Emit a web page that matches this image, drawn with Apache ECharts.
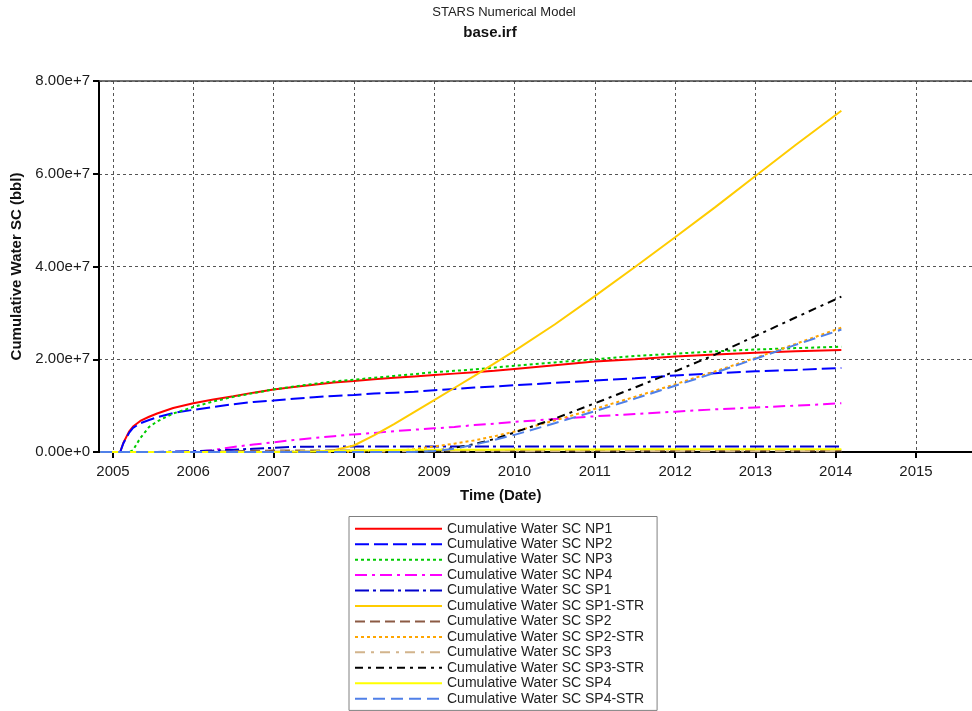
<!DOCTYPE html>
<html>
<head>
<meta charset="utf-8">
<title>STARS Numerical Model - base.irf</title>
<script src="https://cdn.jsdelivr.net/npm/echarts@6/dist/echarts.min.js"></script>
<style>
  html, body { margin: 0; padding: 0; background: #fff; }
  #chart { width: 972px; height: 711px; }
</style>
</head>
<body>
<div id="chart"></div>
<script>
// Simulation time in decimal years
const years = [2004.84, 2005.09, 2005.13, 2005.2, 2005.25, 2005.34, 2005.45, 2005.55, 2005.75,
  2006.0, 2006.25, 2006.5, 2006.75, 2007.0, 2007.25, 2007.5, 2007.75,
  2008.0, 2008.25, 2008.5, 2008.75, 2009.0, 2009.25, 2009.5, 2009.75,
  2010.0, 2010.5, 2011.0, 2011.5, 2012.0, 2012.5, 2013.0, 2013.5, 2014.07];

// Cumulative water, surface conditions (bbl), one array per well
const np1 = [0, 0, 2.0e6, 4.4e6, 5.5e6, 6.7e6, 7.6e6, 8.3e6, 9.5e6,
  10.5e6, 11.3e6, 12.0e6, 12.8e6, 13.5e6, 14.0e6, 14.5e6, 15.0e6,
  15.3e6, 15.7e6, 16.0e6, 16.3e6, 16.6e6, 16.9e6, 17.2e6, 17.5e6,
  17.9e6, 18.7e6, 19.5e6, 20.0e6, 20.6e6, 21.0e6, 21.4e6, 21.7e6, 22.0e6];
const np2 = [0, 0, 1.9e6, 4.1e6, 5.2e6, 6.2e6, 6.9e6, 7.5e6, 8.4e6,
  9.1e6, 9.7e6, 10.3e6, 10.8e6, 11.1e6, 11.5e6, 11.8e6, 12.1e6,
  12.3e6, 12.6e6, 12.8e6, 13.0e6, 13.3e6, 13.6e6, 13.9e6, 14.1e6,
  14.4e6, 14.9e6, 15.4e6, 15.9e6, 16.5e6, 17.0e6, 17.4e6, 17.7e6, 18.1e6];
const np3 = [0, 0, 0, 0, 0.4e6, 3.0e6, 5.4e6, 6.6e6, 8.3e6,
  9.7e6, 10.9e6, 11.9e6, 12.7e6, 13.5e6, 14.1e6, 14.7e6, 15.2e6,
  15.6e6, 16.0e6, 16.4e6, 16.8e6, 17.2e6, 17.5e6, 17.8e6, 18.2e6,
  18.6e6, 19.3e6, 20.0e6, 20.7e6, 21.2e6, 21.7e6, 22.1e6, 22.4e6, 22.7e6];
const np4 = [0, 0, 0, 0, 0, 0, 0, 0, 0,
  0, 0.4e6, 1.1e6, 1.6e6, 2.1e6, 2.6e6, 3.0e6, 3.4e6,
  3.8e6, 4.1e6, 4.5e6, 4.8e6, 5.1e6, 5.4e6, 5.8e6, 6.1e6,
  6.5e6, 7.1e6, 7.7e6, 8.2e6, 8.7e6, 9.2e6, 9.6e6, 10.0e6, 10.5e6];
const sp1 = [0, 0, 0, 0, 0, 0, 0, 0, 0.1e6,
  0.2e6, 0.3e6, 0.5e6, 0.7e6, 0.9e6, 1.1e6, 1.15e6, 1.2e6,
  1.2e6, 1.2e6, 1.2e6, 1.2e6, 1.2e6, 1.2e6, 1.2e6, 1.2e6,
  1.2e6, 1.2e6, 1.2e6, 1.2e6, 1.2e6, 1.2e6, 1.2e6, 1.2e6, 1.2e6];
const sp1Str = [0, 0, 0, 0, 0, 0, 0, 0, 0,
  0, 0, 0, 0, 0, 0, 0, 0.4e6,
  1.4e6, 3.6e6, 6.0e6, 8.6e6, 11.2e6, 13.8e6, 16.4e6, 19.1e6,
  21.8e6, 27.5e6, 33.6e6, 39.9e6, 46.3e6, 52.8e6, 59.5e6, 66.2e6, 73.6e6];
const sp2 = [0, 0, 0, 0, 0, 0, 0, 0, 0,
  0, 0.05e6, 0.15e6, 0.25e6, 0.3e6, 0.35e6, 0.35e6, 0.35e6,
  0.35e6, 0.35e6, 0.35e6, 0.35e6, 0.35e6, 0.35e6, 0.35e6, 0.35e6,
  0.35e6, 0.35e6, 0.35e6, 0.35e6, 0.35e6, 0.35e6, 0.35e6, 0.35e6, 0.35e6];
const sp2Str = [0, 0, 0, 0, 0, 0, 0, 0, 0,
  0, 0, 0, 0, 0, 0, 0, 0,
  0, 0.05e6, 0.2e6, 0.6e6, 1.2e6, 1.8e6, 2.5e6, 3.4e6,
  4.4e6, 6.8e6, 9.3e6, 11.9e6, 14.6e6, 17.4e6, 20.3e6, 23.3e6, 26.8e6];
const sp3 = [0, 0, 0, 0, 0, 0, 0, 0, 0,
  0, 0, 0, 0, 0.1e6, 0.15e6, 0.15e6, 0.15e6,
  0.15e6, 0.15e6, 0.15e6, 0.15e6, 0.15e6, 0.15e6, 0.15e6, 0.15e6,
  0.15e6, 0.15e6, 0.15e6, 0.15e6, 0.15e6, 0.15e6, 0.15e6, 0.15e6, 0.15e6];
const sp3Str = [0, 0, 0, 0, 0, 0, 0, 0, 0,
  0, 0, 0, 0, 0, 0, 0, 0,
  0, 0, 0, 0, 0.2e6, 0.9e6, 1.7e6, 2.8e6,
  4.2e6, 7.2e6, 10.5e6, 13.9e6, 17.4e6, 21.0e6, 25.0e6, 29.0e6, 33.5e6];
const sp4 = [0, 0, 0, 0, 0, 0, 0, 0, 0,
  0, 0, 0, 0, 0, 0.05e6, 0.1e6, 0.2e6,
  0.3e6, 0.4e6, 0.45e6, 0.5e6, 0.5e6, 0.5e6, 0.5e6, 0.5e6,
  0.52e6, 0.54e6, 0.56e6, 0.58e6, 0.6e6, 0.6e6, 0.6e6, 0.6e6, 0.6e6];
const sp4Str = [0, 0, 0, 0, 0, 0, 0, 0, 0,
  0, 0, 0, 0, 0, 0, 0, 0,
  0, 0, 0, 0, 0.2e6, 0.7e6, 1.6e6, 2.6e6,
  3.7e6, 6.2e6, 8.8e6, 11.5e6, 14.3e6, 17.1e6, 20.1e6, 23.1e6, 26.4e6];

// Axis ticks
const xTickYears = [2005, 2006, 2007, 2008, 2009, 2010, 2011, 2012, 2013, 2014, 2015];
const yTicks = [0, 2e7, 4e7, 6e7, 8e7];

const FONT = '"Liberation Sans", Arial, sans-serif';

const seriesDefs = [
  { name: 'Cumulative Water SC NP1',     data: np1,    color: '#FF0000', dash: 'solid' },
  { name: 'Cumulative Water SC NP2',     data: np2,    color: '#0000FF', dash: [14, 5] },
  { name: 'Cumulative Water SC NP3',     data: np3,    color: '#00CC00', dash: [3, 3] },
  { name: 'Cumulative Water SC NP4',     data: np4,    color: '#FF00FF', dash: [12, 5, 3, 5] },
  { name: 'Cumulative Water SC SP1',     data: sp1,    color: '#0000CC', dash: [14, 4, 3, 4] },
  { name: 'Cumulative Water SC SP1-STR', data: sp1Str, color: '#FFCC00', dash: 'solid' },
  { name: 'Cumulative Water SC SP2',     data: sp2,    color: '#8B5A44', dash: [10, 5] },
  { name: 'Cumulative Water SC SP2-STR', data: sp2Str, color: '#FFA500', dash: [3, 3] },
  { name: 'Cumulative Water SC SP3',     data: sp3,    color: '#D2B48C', dash: [10, 6, 3, 6] },
  { name: 'Cumulative Water SC SP3-STR', data: sp3Str, color: '#000000', dash: [8, 5, 3, 5] },
  { name: 'Cumulative Water SC SP4',     data: sp4,    color: '#FFFF00', dash: 'solid' },
  { name: 'Cumulative Water SC SP4-STR', data: sp4Str, color: '#5080E8', dash: [12, 6] }
];

const chart = echarts.init(document.getElementById('chart'), null, { renderer: 'canvas' });

const gridLine = { show: true, lineStyle: { type: [3, 3], color: '#555', width: 1 } };

chart.setOption({
  animation: false,
  backgroundColor: '#fff',
  title: [
    { text: 'STARS Numerical Model', left: 504, top: 6, padding: 0, textAlign: 'center',
      textStyle: { fontFamily: FONT, fontSize: 13, fontWeight: 'normal', color: '#222' } },
    { text: 'base.irf', left: 490, top: 25, padding: 0, textAlign: 'center',
      textStyle: { fontFamily: FONT, fontSize: 15, fontWeight: 'bold', color: '#111' } }
  ],
  graphic: [
    { type: 'text', left: 460, top: 488,
      style: { text: 'Time (Date)', fontFamily: FONT, fontSize: 15, fontWeight: 'bold', fill: '#111' } }
  ],
  legend: {
    orient: 'vertical', left: 349, top: 516.5,
    itemWidth: 87, itemHeight: 14, itemGap: 0,
    padding: [4.5, 13, 4, 5],
    borderColor: '#808080', borderWidth: 1,
    selectedMode: false,
    // line-only keys: the marker symbol is hidden
    itemStyle: { opacity: 0 },
    textStyle: { fontFamily: FONT, fontSize: 14, color: '#222', lineHeight: 15.45 },
    data: seriesDefs.map(s => s.name)
  },
  grid: { left: 99, top: 81, right: 0, bottom: 259, containLabel: false },
  xAxis: [
    {
      type: 'value', min: 2004.826, max: 2015.697,
      axisLine: { show: true, lineStyle: { color: '#000', width: 2 } },
      axisTick: { show: true, customValues: xTickYears, length: 6, lineStyle: { color: '#000', width: 2 } },
      axisLabel: { customValues: xTickYears, formatter: v => String(Math.round(v)),
        fontFamily: FONT, fontSize: 15, color: '#1a1a1a', margin: 12 },
      splitLine: gridLine
    },
    {
      type: 'value', position: 'top', min: 2004.826, max: 2015.697,
      axisLine: { show: true, lineStyle: { color: '#444', width: 1.5 } },
      axisTick: { show: false }, axisLabel: { show: false }, splitLine: { show: false }
    }
  ],
  yAxis: {
    type: 'value', min: yTicks[0], max: yTicks[yTicks.length - 1], interval: yTicks[1] - yTicks[0],
    name: 'Cumulative Water SC (bbl)', nameLocation: 'middle', nameGap: 72,
    nameTextStyle: { fontFamily: FONT, fontSize: 15, fontWeight: 'bold', color: '#111' },
    axisLine: { show: true, lineStyle: { color: '#000', width: 2 } },
    axisTick: { show: true, length: 6, lineStyle: { color: '#000', width: 2 } },
    axisLabel: { formatter: v => v.toExponential(2), fontFamily: FONT, fontSize: 15, color: '#1a1a1a', margin: 9 },
    splitLine: gridLine
  },
  series: seriesDefs.map(s => ({
    name: s.name,
    type: 'line',
    xAxisIndex: 0,
    data: years.map((t, i) => [t, s.data[i]]),
    symbol: 'none',
    smooth: false,
    clip: true,
    color: s.color,
    lineStyle: { color: s.color, width: 2, type: s.dash }
  }))
});
</script>
</body>
</html>
